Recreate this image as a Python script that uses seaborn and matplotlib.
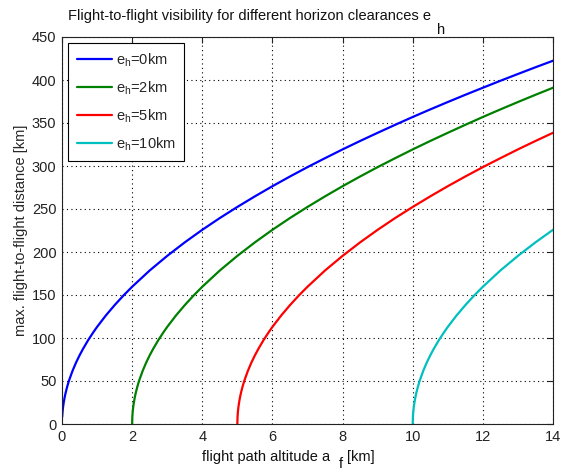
import numpy as np
import pandas as pd
import matplotlib
matplotlib.use("Agg")
import matplotlib.pyplot as plt
import seaborn as sns
from matplotlib.lines import Line2D

# Readings from the chart: altitude above the clearance level -> max distance (km)
offset_km = [0.0, 0.005, 0.01, 0.02, 0.03, 0.05, 0.075, 0.1, 0.15, 0.2, 0.3, 0.4, 0.5, 0.6,
             0.75, 0.9, 1.0, 1.25, 1.5, 1.75, 2.0, 2.5, 3.0, 3.5, 4.0, 4.5, 5.0, 5.5, 6.0,
             6.5, 7.0, 7.5, 8.0, 8.5, 9.0, 9.5, 10.0, 10.5, 11.0, 11.5, 12.0, 12.5, 13.0,
             13.5, 14.0]
dist_km = [0.0, 8.0, 11.3, 16.0, 19.6, 25.2, 30.9, 35.7, 43.7, 50.5, 61.8, 71.4, 79.8, 87.4,
           97.8, 107.1, 112.9, 126.2, 138.2, 149.3, 159.6, 178.5, 195.5, 211.2, 225.8, 239.5,
           252.4, 264.7, 276.5, 287.8, 298.7, 309.1, 319.3, 329.1, 338.6, 347.9, 357.0, 365.8,
           374.4, 382.8, 391.0, 399.1, 407.0, 414.8, 422.4]

clearances = [0, 2, 5, 10]
labels = [r"e$_{\mathregular{h}}$=0km", r"e$_{\mathregular{h}}$=2km",
          r"e$_{\mathregular{h}}$=5km", r"e$_{\mathregular{h}}$=10km"]
colors = ["#0000ff", "#008000", "#ff0000", "#00bfbf"]

rows = []
for e, lab in zip(clearances, labels):
    for o, d in zip(offset_km, dist_km):
        if e == 0 and o == 0.0:
            continue
        if e + o <= 14.0 + 1e-9:
            rows.append({"a": e + o, "d": d, "label": lab})
df = pd.DataFrame(rows)

sns.set_style("white")
plt.rcParams["font.family"] = ["Liberation Sans", "DejaVu Sans"]
plt.rcParams["mathtext.fontset"] = "custom"
plt.rcParams["mathtext.rm"] = "Liberation Sans"
plt.rcParams["mathtext.it"] = "Liberation Sans"

W, H = 561, 472
fig = plt.figure(figsize=(W / 100, H / 100), dpi=100)
ax = fig.add_axes([62 / W, 1 - 424 / H, (553 - 62) / W, (424 - 37) / H])

sns.lineplot(data=df, x="a", y="d", hue="label", hue_order=labels, palette=colors,
             estimator=None, sort=True, linewidth=1.6, ax=ax, legend=False)

ax.set_xlim(0, 14)
ax.set_ylim(0, 450)
ax.set_xticks(np.arange(0, 15, 2))
ax.set_yticks(np.arange(0, 451, 50))
ax.grid(True, linestyle=(0, (1, 3)), color="black", linewidth=0.8)
ax.tick_params(direction="in", top=True, right=True, length=4, width=0.8,
               labelsize=10.5, colors="#222222", pad=4)
for s in ax.spines.values():
    s.set_color("#222222")
    s.set_linewidth(0.8)

ax.set_xlabel("")
ax.set_ylabel("max. flight-to-flight distance [km]", fontsize=10.5, labelpad=3)

fs = 10.5
renderer = fig.canvas.get_renderer()

# title, with its subscript drawn lowered as in the reference
t_main = fig.text(68 / W, 1 - 20 / H,
                  "Flight-to-flight visibility for different horizon clearances e",
                  ha="left", va="baseline", fontsize=fs, color="#111111")
bb = t_main.get_window_extent(renderer)
fig.text((bb.x1 + 6) / W, 1 - 34 / H, "h", ha="left", va="baseline", fontsize=fs,
         color="#111111")

# x label, with lowered subscript
x_main = fig.text(202 / W, 1 - 461 / H, "flight path altitude a", ha="left",
                  va="baseline", fontsize=fs, color="#111111")
bb = x_main.get_window_extent(renderer)
f_t = fig.text((bb.x1 + 9) / W, 1 - 468 / H, "f", ha="left", va="baseline",
               fontsize=fs, color="#111111")
bb2 = f_t.get_window_extent(renderer)
fig.text((bb2.x1 + 4) / W, 1 - 461 / H, "[km]", ha="left", va="baseline",
         fontsize=fs, color="#111111")

handles = [Line2D([0], [0], color=c, linewidth=1.6) for c in colors]
leg = ax.legend(handles, labels, loc="upper left", fontsize=fs, frameon=True, fancybox=False,
                edgecolor="black", framealpha=1, handlelength=2.4, handletextpad=0.3,
                borderaxespad=0.4, borderpad=0.6, labelspacing=0.72)
leg.get_frame().set_linewidth(0.8)

fig.savefig("out.png", dpi=100)
